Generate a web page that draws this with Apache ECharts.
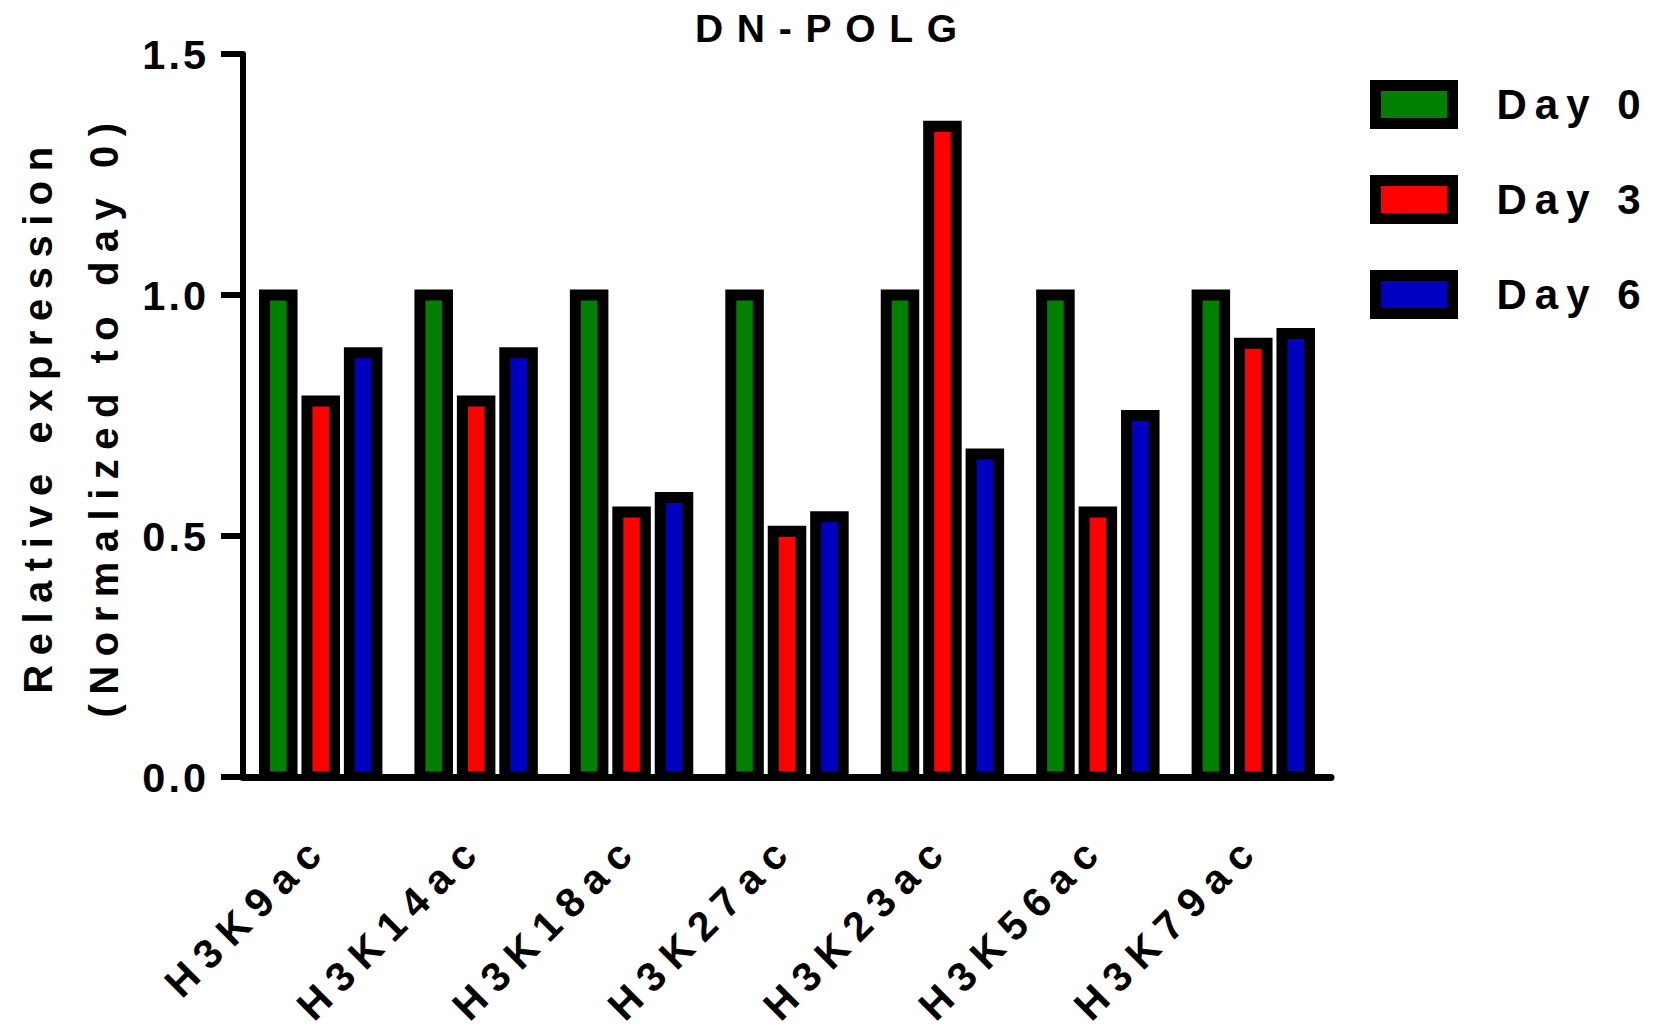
<!DOCTYPE html>
<html>
<head>
<meta charset="utf-8">
<title>DN-POLG</title>
<script src="https://cdn.jsdelivr.net/npm/echarts@6/dist/echarts.min.js"></script>
<style>
  html, body { margin: 0; padding: 0; background: #ffffff; }
  #chart { width: 1655px; height: 1026px; }
</style>
</head>
<body>
<div id="chart"></div>
<script>
// Histone acetylation marks and relative expression per time point
const categories = ['H3K9ac', 'H3K14ac', 'H3K18ac', 'H3K27ac', 'H3K23ac', 'H3K56ac', 'H3K79ac'];
const seriesNames = ['Day 0', 'Day 3', 'Day 6'];
const day0 = [1.00, 1.00, 1.00, 1.00, 1.00, 1.00, 1.00];
const day3 = [0.78, 0.78, 0.55, 0.51, 1.35, 0.55, 0.90];
const day6 = [0.88, 0.88, 0.58, 0.54, 0.67, 0.75, 0.92];
const seriesColors = ['#008000', '#ff0000', '#0000c0'];
const yTicks = [0, 0.5, 1.0, 1.5];

const FONT = 'Liberation Sans, Arial, Helvetica, sans-serif';

// Bar geometry as fractions of one category band
const BAR_FRAC = 0.177;   // bar body width (outline centred on its edge)
const STEP_FRAC = 0.273;  // distance between neighbouring bars of a group
const OUTLINE = 11;

// Tracking (px) used for each text size in the figure
const trackingBySize = { '39': 13.7, '40': 9.5, '41': 10, '41.5': 3, '42': 8 };

const chart = echarts.init(document.getElementById('chart'), null, { renderer: 'svg' });

const seriesData = [day0, day3, day6];
const series = seriesNames.map((name, s) => ({
  name: name,
  type: 'custom',
  data: seriesData[s].map((v, i) => [i, v]),
  encode: { x: 0, y: 1 },
  clip: true,
  z: 2,
  itemStyle: { color: seriesColors[s], borderColor: '#000000', borderWidth: OUTLINE },
  renderItem: (params, api) => {
    const idx = api.value(0);
    const val = api.value(1);
    const top = api.coord([idx, val]);
    const base = api.coord([idx, 0]);
    const band = api.size([1, 0])[0];
    const w = band * BAR_FRAC;
    const cx = top[0] + (s - 1) * band * STEP_FRAC;
    return {
      type: 'rect',
      shape: { x: cx - w / 2, y: top[1], width: w, height: base[1] - top[1] },
      style: { fill: seriesColors[s], stroke: '#000000', lineWidth: OUTLINE }
    };
  }
}));

chart.setOption({
  animation: false,
  backgroundColor: '#ffffff',
  title: {
    text: 'DN-POLG',
    left: 695,
    top: 9,
    padding: 0,
    textStyle: { fontFamily: FONT, fontSize: 39, fontWeight: 'bold', color: '#000', lineHeight: 39 }
  },
  legend: {
    orient: 'vertical',
    left: 1370,
    top: 80,
    padding: 0,
    icon: 'rect',
    itemWidth: 77,
    itemHeight: 38,
    itemGap: 46,
    selectedMode: false,
    itemStyle: { borderColor: '#000000', borderWidth: OUTLINE },
    textStyle: {
      fontFamily: FONT, fontSize: 42, fontWeight: 'bold', color: '#000',
      lineHeight: 12, padding: [26, 0, 0, 39]
    },
    data: seriesNames
  },
  grid: { left: 243, right: 324, top: 54, bottom: 249, containLabel: false, outerBoundsMode: 'none' },
  xAxis: {
    type: 'category',
    data: categories,
    z: 5,
    axisLine: { show: true, lineStyle: { color: '#000', width: 7 } },
    axisTick: { show: false },
    axisLabel: {
      interval: 0,
      rotate: 45,
      margin: 64,
      fontFamily: FONT, fontSize: 41, fontWeight: 'bold', color: '#000'
    },
    splitLine: { show: false }
  },
  yAxis: {
    type: 'value',
    min: yTicks[0],
    max: yTicks[yTicks.length - 1],
    interval: 0.5,
    z: 5,
    name: 'Relative expression\n(Normalized to day 0)',
    nameLocation: 'middle',
    nameRotate: 90,
    nameGap: 106,
    nameTextStyle: { fontFamily: FONT, fontSize: 40, fontWeight: 'bold', color: '#000', lineHeight: 66 },
    axisLine: { show: true, lineStyle: { color: '#000', width: 6 } },
    axisTick: { show: true, inside: false, length: 22, lineStyle: { color: '#000', width: 6 } },
    axisLabel: {
      margin: 34,
      formatter: v => v.toFixed(1),
      fontFamily: FONT, fontSize: 41.5, fontWeight: 'bold', color: '#000'
    },
    splitLine: { show: false }
  },
  series: series
});

// Apply the wide tracking of the figure's lettering to the SVG text nodes
function applyTracking() {
  document.querySelectorAll('#chart svg text').forEach(t => {
    const fs = String(parseFloat(getComputedStyle(t).fontSize));
    if (trackingBySize[fs] != null) {
      t.style.letterSpacing = trackingBySize[fs] + 'px';
    }
  });
}
chart.on('finished', applyTracking);
applyTracking();
</script>
</body>
</html>
